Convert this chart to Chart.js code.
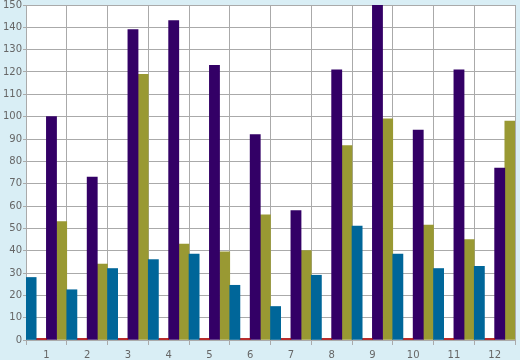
<!DOCTYPE html>
<html>
<head>
<meta charset="utf-8">
<script src="https://cdn.jsdelivr.net/npm/chart.js@4"></script>
<style>
html,body{margin:0;padding:0;background:#d9eef5;}
canvas{display:block;}
</style>
</head>
<body>
<canvas id="c" width="520" height="360"></canvas>
<script>
const categories = ['1','2','3','4','5','6','7','8','9','10','11','12'];
const blueVals   = [28, 22.5, 32, 36, 38.5, 24.5, 15, 29, 51, 38.5, 32, 33];
const redVals    = [0, 0, 0, 0, 0, 0, 0, 0, 0, 0, 0, 0];
const purpleVals = [100, 73, 139, 143, 123, 92, 58, 121, 150, 94, 121, 77];
const oliveVals  = [53, 34, 119, 43, 39.5, 56, 40, 87, 99, 51.5, 45, 98];
const yTicks = {min: 0, max: 150, step: 10};

const plotBg = {
  id: 'plotBg',
  beforeDraw(chart) {
    const {ctx, chartArea: a} = chart;
    ctx.save();
    ctx.fillStyle = '#ffffff';
    ctx.fillRect(a.left, a.top, a.right - a.left, a.bottom - a.top);
    ctx.restore();
  }
};

Chart.defaults.font.family = 'DejaVu Sans';
Chart.defaults.font.size = 10;
Chart.defaults.color = '#666666';

new Chart(document.getElementById('c'), {
  type: 'bar',
  data: {
    labels: categories,
    datasets: [
      {data: blueVals, backgroundColor: '#006699'},
      {data: redVals, backgroundColor: '#aa0000', minBarLength: 1.5},
      {data: purpleVals, backgroundColor: '#330066'},
      {data: oliveVals, backgroundColor: '#999933'}
    ]
  },
  options: {
    responsive: false,
    animation: false,
    devicePixelRatio: 1,
    barPercentage: 1,
    categoryPercentage: 1,
    layout: {padding: {top: 5, right: 5, left: 0, bottom: 0}},
    plugins: {legend: {display: false}, tooltip: {enabled: false}},
    scales: {
      x: {
        grid: {color: '#aaaaaa', lineWidth: 1, tickLength: 5, offset: true},
        border: {color: '#aaaaaa'},
        ticks: {padding: 4, maxRotation: 0},
        afterFit(s) { s.height = 20; s.paddingLeft = 0; s.paddingRight = 0; }
      },
      y: {
        min: yTicks.min, max: yTicks.max,
        grid: {color: '#aaaaaa', lineWidth: 1, tickLength: 3},
        border: {color: '#aaaaaa'},
        ticks: {stepSize: yTicks.step, padding: 1},
        afterFit(s) { s.width = 26; s.paddingTop = 0; s.paddingBottom = 0; }
      }
    }
  },
  plugins: [plotBg]
});
</script>
</body>
</html>
